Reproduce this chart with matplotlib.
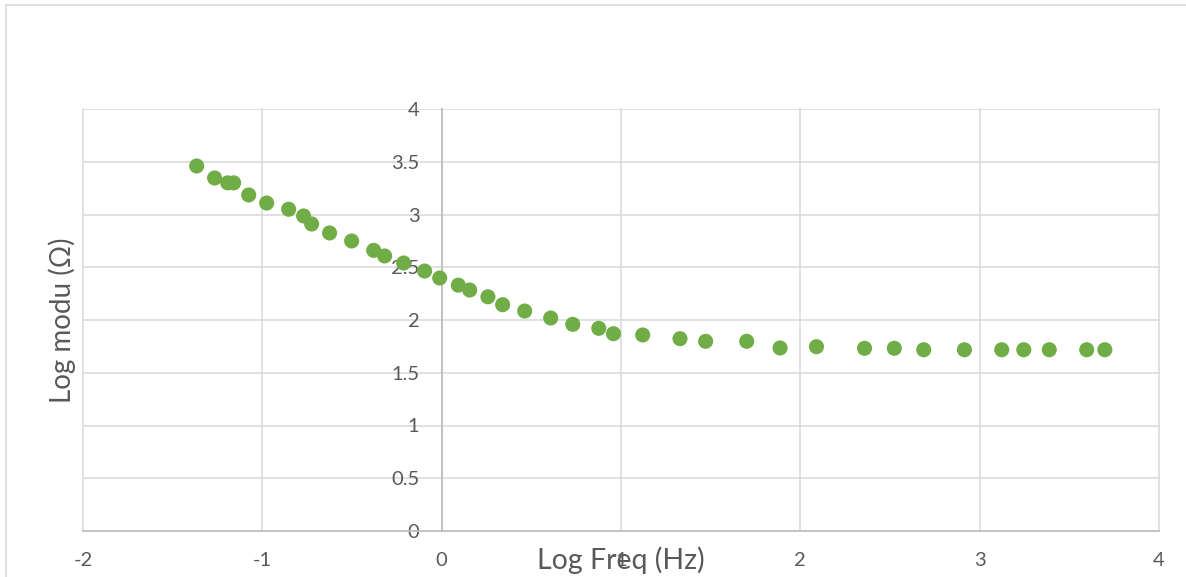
import numpy as np
import matplotlib
matplotlib.use("Agg")
import matplotlib.pyplot as plt
from matplotlib.patches import Rectangle

# values
log_freq = [-1.366, -1.266, -1.193, -1.160, -1.076, -0.976, -0.853, -0.770, -0.725,
            -0.625, -0.502, -0.379, -0.318, -0.212, -0.095, -0.011, 0.093, 0.156,
            0.258, 0.340, 0.463, 0.608, 0.731, 0.876, 0.958, 1.121, 1.329, 1.472,
            1.701, 1.887, 2.090, 2.358, 2.524, 2.688, 2.915, 3.123, 3.246, 3.388,
            3.597, 3.698]
log_modulus = [3.460, 3.346, 3.300, 3.300, 3.185, 3.109, 3.050, 2.986, 2.910,
               2.825, 2.749, 2.660, 2.607, 2.540, 2.464, 2.398, 2.330, 2.284,
               2.220, 2.145, 2.085, 2.019, 1.959, 1.921, 1.870, 1.858, 1.823, 1.798,
               1.798, 1.735, 1.747, 1.732, 1.732, 1.718, 1.718, 1.718, 1.718, 1.718,
               1.718, 1.718]
x_ticks = [-2, -1, 0, 1, 2, 3, 4]
y_ticks = [0, 0.5, 1, 1.5, 2, 2.5, 3, 3.5, 4]

TEXT = "#595959"
GRID = "#d9d9d9"
AXIS = "#bfbfbf"
GREEN = "#70AD47"

plt.rcParams["font.family"] = ["Lato", "DejaVu Sans"]

fig = plt.figure(figsize=(11.86, 5.77), dpi=100)
fig.patches.append(Rectangle((6 / 1186, -0.1), 1.2, 1.1 - 5 / 577, transform=fig.transFigure,
                             fill=False, edgecolor=GRID, lw=1.2))
ax = fig.add_axes([83 / 1186, 46 / 577, 1076 / 1186, 422 / 577])

ax.scatter(log_freq, log_modulus, s=118, color=GREEN, edgecolors="none", zorder=3)

ax.set_xlim(-2, 4)
ax.set_ylim(0, 4)
ax.set_xticks(x_ticks)
ax.set_yticks(y_ticks)
ax.set_xticklabels([str(t) for t in x_ticks])
ax.set_yticklabels([f"{t:g}" for t in y_ticks])

ax.grid(True, color=GRID, lw=1.1)
for gl in ax.get_xgridlines() + ax.get_ygridlines():
    gl.set_clip_on(False)
ax.set_axisbelow(True)

ax.spines["left"].set_position(("data", 0))
ax.spines["left"].set_color(AXIS)
ax.spines["left"].set_linewidth(1.3)
ax.spines["left"].set_zorder(2)
ax.spines["bottom"].set_color(AXIS)
ax.spines["bottom"].set_linewidth(1.3)
ax.spines["top"].set_visible(False)
ax.spines["right"].set_visible(False)

ax.tick_params(axis="both", length=0, labelsize=14.5, labelcolor=TEXT)
ax.tick_params(axis="y", pad=16)
ax.tick_params(axis="x", pad=15)

ax.set_xlabel("Log Freq (Hz)", fontsize=20.5, color=TEXT)
ax.xaxis.set_label_coords(0.5, -0.069)
ax.xaxis.label.set_va("center")
ax.set_ylabel("Log modu (Ω)", fontsize=20, color=TEXT)
ax.yaxis.set_label_coords(-0.0195, 0.5)
ax.yaxis.label.set_va("center")

fig.savefig("out.png", dpi=100)
